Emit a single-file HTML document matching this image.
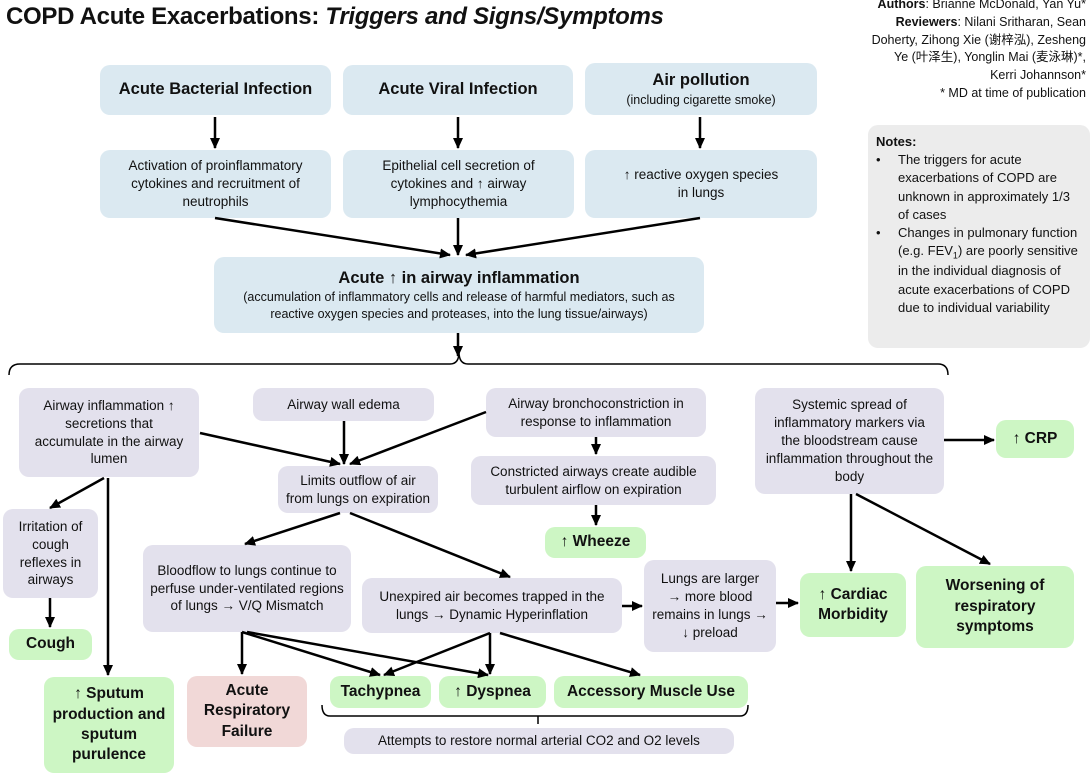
<!DOCTYPE html>
<html><head><meta charset="utf-8"><style>
body{margin:0;width:1091px;height:777px;background:#fff;position:relative;overflow:hidden;font-family:"Liberation Sans","Noto Sans CJK SC",sans-serif;color:#111}
.b{position:absolute;border-radius:10px;display:flex;align-items:center;justify-content:center;text-align:center;font-size:13.5px;line-height:1.32;box-sizing:border-box;padding:2px 4px}
.bl{background:#dbe9f1}.lv{background:#e3e1ed}.gr{background:#cdf6c4;font-weight:bold;font-size:15.5px}.pk{background:#f1d8d7;font-weight:bold;font-size:15.5px}
.h{font-weight:bold;font-size:16.5px}
svg{position:absolute;left:0;top:0}
</style></head><body>
<div style="position:absolute;left:6px;top:3px;font-size:24px;font-weight:bold;letter-spacing:-0.3px">COPD Acute Exacerbations: <i>Triggers and Signs/Symptoms</i></div>
<div style="position:absolute;right:5px;top:-4px;width:300px;text-align:right;font-size:12.5px;line-height:1.42"><b>Authors</b>: Brianne McDonald, Yan Yu*<br><b>Reviewers</b>: Nilani Sritharan, Sean<br>Doherty, Zihong Xie (谢梓泓), Zesheng<br>Ye (叶泽生), Yonglin Mai (麦泳琳)*,<br>Kerri Johannson*<br>* MD at time of publication</div>
<div style="position:absolute;left:868px;top:125px;width:222px;height:223px;border-radius:10px;background:#ececec;box-sizing:border-box;font-size:13px;line-height:1.4;padding:8px 6px 0 8px"><b>Notes:</b>
<div style="display:flex"><span style="width:22px;flex:none">•</span><span>The triggers for acute exacerbations of COPD are unknown in approximately 1/3 of cases</span></div>
<div style="display:flex"><span style="width:22px;flex:none">•</span><span>Changes in pulmonary function (e.g. FEV<sub style="font-size:9px">1</sub>) are poorly sensitive in the individual diagnosis of acute exacerbations of COPD due to individual variability</span></div></div>

<div class="b bl h" style="left:100px;top:65px;width:231px;height:50px">Acute Bacterial Infection</div>
<div class="b bl h" style="left:343px;top:65px;width:230px;height:50px">Acute Viral Infection</div>
<div class="b bl" style="left:585px;top:63px;width:232px;height:52px;flex-direction:column"><span class="h">Air pollution</span><span style="font-size:12.5px">(including cigarette smoke)</span></div>
<div class="b bl" style="left:100px;top:150px;width:231px;height:68px;padding:2px 10px">Activation of proinflammatory cytokines and recruitment of neutrophils</div>
<div class="b bl" style="left:343px;top:150px;width:231px;height:68px;padding:2px 14px">Epithelial cell secretion of cytokines and ↑ airway lymphocythemia</div>
<div class="b bl" style="left:585px;top:150px;width:232px;height:68px">↑ reactive oxygen species<br>in lungs</div>
<div class="b bl" style="left:214px;top:257px;width:490px;height:76px;flex-direction:column;font-size:12.5px;padding:0 10px"><span class="h">Acute ↑ in airway inflammation</span>(accumulation of inflammatory cells and release of harmful mediators, such as reactive oxygen species and proteases, into the lung tissue/airways)</div>

<div class="b lv" style="left:19px;top:388px;width:180px;height:89px;padding:2px 12px">Airway inflammation ↑ secretions that accumulate in the airway lumen</div>
<div class="b lv" style="left:253px;top:388px;width:181px;height:33px">Airway wall edema</div>
<div class="b lv" style="left:486px;top:388px;width:220px;height:49px">Airway bronchoconstriction in response to inflammation</div>
<div class="b lv" style="left:278px;top:466px;width:160px;height:47px;padding:2px 2px">Limits outflow of air<br>from lungs on expiration</div>
<div class="b lv" style="left:471px;top:456px;width:245px;height:49px">Constricted airways create audible turbulent airflow on expiration</div>
<div class="b lv" style="left:755px;top:388px;width:189px;height:106px;padding:2px 10px">Systemic spread of inflammatory markers via the bloodstream cause inflammation throughout the body</div>
<div class="b lv" style="left:3px;top:509px;width:95px;height:89px">Irritation of cough reflexes in airways</div>
<div class="b lv" style="left:143px;top:545px;width:208px;height:87px;padding:2px 3px">Bloodflow to lungs continue to perfuse under-ventilated regions of lungs → V/Q Mismatch</div>
<div class="b lv" style="left:362px;top:578px;width:260px;height:55px">Unexpired air becomes trapped in the lungs → Dynamic Hyperinflation</div>
<div class="b lv" style="left:644px;top:560px;width:132px;height:92px;padding:2px 3px">Lungs are larger<br>→ more blood remains in lungs → ↓ preload</div>
<div class="b lv" style="left:344px;top:728px;width:390px;height:26px">Attempts to restore normal arterial CO2 and O2 levels</div>

<div class="b gr" style="left:996px;top:420px;width:78px;height:38px">↑ CRP</div>
<div class="b gr" style="left:545px;top:527px;width:101px;height:31px">↑ Wheeze</div>
<div class="b gr" style="left:9px;top:629px;width:83px;height:31px">Cough</div>
<div class="b gr" style="left:800px;top:573px;width:106px;height:64px">↑ Cardiac Morbidity</div>
<div class="b gr" style="left:916px;top:566px;width:158px;height:82px;padding:2px 14px">Worsening of respiratory symptoms</div>
<div class="b gr" style="left:44px;top:677px;width:130px;height:96px">↑ Sputum production and sputum purulence</div>
<div class="b gr" style="left:330px;top:676px;width:101px;height:32px">Tachypnea</div>
<div class="b gr" style="left:439px;top:676px;width:107px;height:32px">↑ Dyspnea</div>
<div class="b gr" style="left:554px;top:676px;width:194px;height:32px">Accessory Muscle Use</div>
<div class="b pk" style="left:187px;top:676px;width:120px;height:71px">Acute Respiratory Failure</div>

<svg width="1091" height="777" viewBox="0 0 1091 777">
<defs><marker id="a" markerWidth="11" markerHeight="10" refX="10" refY="5" orient="auto" markerUnits="userSpaceOnUse"><path d="M0,0L11,5L0,10z" fill="#000"/></marker></defs>
<g stroke="#000" stroke-width="2.5" fill="none" marker-end="url(#a)">
<path d="M215 117V148"/><path d="M458 117V148"/><path d="M700 117V148"/>
<path d="M215 218L450 255"/><path d="M458 218V255"/><path d="M700 218L466 255"/>
<path d="M458 333V356"/>
<path d="M200 433L340 464"/><path d="M344 421V464"/><path d="M486 412L350 464"/>
<path d="M596 437V454"/><path d="M596 505V525"/>
<path d="M104 478L50 508"/><path d="M108 478V675"/>
<path d="M50 598V627"/>
<path d="M340 513L245 544"/><path d="M350 513L510 577"/>
<path d="M622 606H642"/><path d="M776 603H798"/>
<path d="M851 494V571"/><path d="M856 494L990 564"/>
<path d="M944 440H994"/>
<path d="M242 632V674"/><path d="M242 632L380 675"/><path d="M247 632L488 675"/>
<path d="M490 633L384 675"/><path d="M490 633V674"/><path d="M500 633L640 675"/>
</g>
<g stroke="#000" stroke-width="1.5" fill="none">
<path d="M9 375Q9 364 20 364H450Q459 364 459 352Q459 364 468 364H938Q948 364 948 375"/>
<path d="M322 705Q322 716 330 716H538V724M538 716H740Q748 716 748 705"/>
</g>
</svg>
</body></html>
